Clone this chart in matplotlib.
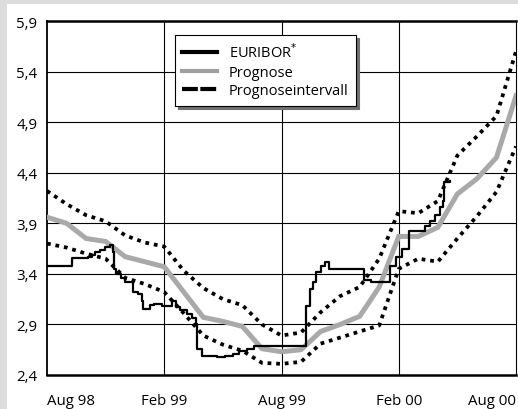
import matplotlib
matplotlib.use("Agg")
import matplotlib.pyplot as plt
from matplotlib.lines import Line2D
from matplotlib.patches import Rectangle

# ---- data (months since Aug 98) ----
months = list(range(25))
prognose = [3.96, 3.90, 3.75, 3.72, 3.57, 3.52, 3.47, 3.22, 2.97, 2.93, 2.88, 2.66, 2.63,
            2.65, 2.83, 2.90, 2.98, 3.27, 3.77, 3.77, 3.86, 4.19, 4.34, 4.55, 5.16]
upper = [4.22, 4.09, 3.98, 3.92, 3.78, 3.71, 3.67, 3.43, 3.26, 3.15, 3.09, 2.90, 2.79,
         2.82, 3.02, 3.18, 3.27, 3.55, 4.02, 4.00, 4.12, 4.57, 4.76, 4.96, 5.60]
lower = [3.70, 3.66, 3.60, 3.55, 3.36, 3.30, 3.22, 3.01, 2.79, 2.70, 2.64, 2.52, 2.51,
         2.53, 2.71, 2.77, 2.83, 2.89, 3.45, 3.55, 3.52, 3.75, 3.97, 4.21, 4.66]

eur_m = [0, 1.3, 2.1, 2.3, 2.45, 2.7, 2.95, 3.2, 3.4, 3.45, 3.55, 3.8, 4.0, 4.4, 4.65,
         4.85, 4.9, 5.25, 5.5, 5.9, 6.4, 6.6, 6.8, 7.15, 7.4, 7.65, 7.7, 7.95, 8.7, 9.1,
         9.5, 9.85, 10.25, 10.6, 13.25, 13.45, 13.6, 13.75, 14.0, 14.25, 14.45, 16.2,
         16.6, 17.55, 17.85, 18.15, 18.55, 19.35, 19.6, 19.85, 20.1, 20.25, 20.3, 20.62]
eur_v = [3.48, 3.56, 3.57, 3.59, 3.62, 3.64, 3.67, 3.69, 3.62, 3.45, 3.40, 3.36, 3.32,
         3.22, 3.20, 3.13, 3.05, 3.09, 3.10, 3.08, 3.13, 3.07, 3.04, 3.00, 2.96, 2.90,
         2.66, 2.59, 2.58, 2.59, 2.61, 2.64, 2.66, 2.69, 3.08, 3.25, 3.32, 3.42, 3.48,
         3.52, 3.45, 3.34, 3.32, 3.48, 3.57, 3.65, 3.82, 3.87, 3.92, 3.98, 4.06, 4.12,
         4.31, 4.32]

xtick_pos = [0, 6, 12, 18, 24]
xtick_labels = ["Aug 98", "Feb 99", "Aug 99", "Feb 00", "Aug 00"]
yticks = [2.4, 2.9, 3.4, 3.9, 4.4, 4.9, 5.4, 5.9]
ytick_labels = ["2,4", "2,9", "3,4", "3,9", "4,4", "4,9", "5,4", "5,9"]

plt.rcParams['font.family'] = ['Open Sans', 'DejaVu Sans']

W, H = 518, 410
fig = plt.figure(figsize=(W / 100, H / 100), dpi=100)
fig.patch.set_facecolor('white')
fig.patches.append(Rectangle((0, 0), 7 / W, 1, transform=fig.transFigure,
                             facecolor='#dcdcdc', edgecolor='none', zorder=-10))
fig.patches.append(Rectangle((0, 1 - 5 / H), 1, 5 / H, transform=fig.transFigure,
                             facecolor='#dcdcdc', edgecolor='none', zorder=-10))

ax = fig.add_axes([47 / W, (H - 376) / H, 469 / W, 354 / H])
ax.set_facecolor('white')
ax.set_xlim(0, 24)
ax.set_ylim(2.4, 5.9)

for y in yticks[1:-1]:
    ax.axhline(y, color='black', lw=0.8, zorder=1)
for x in xtick_pos[1:-1]:
    ax.axvline(x, color='black', lw=0.8, zorder=1)

dot = dict(color='black', lw=2.7, dashes=(1.0, 1.3), solid_capstyle='butt',
           dash_capstyle='butt', zorder=3)
ax.plot(months, upper, **dot)
ax.plot(months, lower, **dot)
ax.plot(months, prognose, color='#a9a9a9', lw=3.6, solid_joinstyle='miter', zorder=4)
ax.plot(eur_m, eur_v, color='black', lw=1.6, drawstyle='steps-post', zorder=5)

ax.set_xticks(xtick_pos)
ax.set_xticklabels(xtick_labels)
ax.set_yticks(yticks)
ax.set_yticklabels(ytick_labels)
ax.tick_params(axis='both', length=0, labelsize=10.8, colors='black')
ax.tick_params(axis='x', pad=13)
ax.tick_params(axis='y', pad=7)
labs = ax.get_xticklabels()
labs[0].set_ha('left')
labs[-1].set_ha('right')

for s in ['top', 'bottom']:
    ax.spines[s].set_linewidth(1.8)
ax.spines['left'].set_linewidth(1.3)
ax.spines['right'].set_linewidth(0.8)

handles = [
    Line2D([], [], color='black', lw=3),
    Line2D([], [], color='#a0a0a0', lw=3),
    Line2D([], [], color='black', lw=3, dashes=(3.8, 0.6)),
]
leg = ax.legend(handles, ["EURIBOR$^{*}$", "Prognose", "Prognoseintervall"],
                loc='upper left', bbox_to_anchor=(0.273, 0.960), borderaxespad=0,
                fancybox=False, framealpha=1, edgecolor='black', fontsize=10.5,
                handlelength=2.4, handletextpad=0.8, labelspacing=0.25,
                borderpad=0.5,
                shadow={'color': '#707070', 'alpha': 1})
leg.get_frame().set_linewidth(0.8)
leg.set_zorder(10)

fig.savefig('out.png', dpi=100, facecolor=fig.get_facecolor())
